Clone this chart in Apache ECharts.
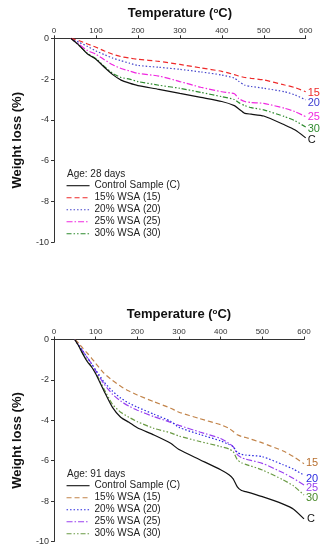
<!DOCTYPE html>
<html>
<head>
<meta charset="utf-8">
<script src="https://cdn.jsdelivr.net/npm/echarts@6/dist/echarts.min.js"></script>
<style>
html,body{margin:0;padding:0;background:#fff;}
#c{width:327px;height:550px;}
</style>
</head>
<body>
<div id="c"></div>
<script>
// ---- Data ----
const xTicks = [0, 100, 200, 300, 400, 500, 600];
const yTicks = [0, -2, -4, -6, -8, -10];

// 28 days
const temp28 = [40, 60, 80, 100, 120, 140, 160, 180, 200, 250, 300, 350, 400, 430, 440, 455, 470, 500, 550, 575, 600];
const c28  = [0, -0.35, -0.77, -1.03, -1.42, -1.78, -2.05, -2.20, -2.32, -2.50, -2.70, -2.90, -3.10, -3.30, -3.45, -3.68, -3.72, -3.81, -4.25, -4.50, -4.88];
const w15_28 = [0, -0.12, -0.28, -0.44, -0.62, -0.78, -0.90, -0.97, -1.03, -1.13, -1.28, -1.45, -1.62, -1.78, -1.85, -1.92, -1.96, -2.04, -2.29, -2.42, -2.62];
const w20_28 = [0, -0.20, -0.40, -0.62, -0.80, -0.97, -1.10, -1.22, -1.33, -1.42, -1.52, -1.65, -1.80, -1.95, -2.10, -2.30, -2.36, -2.45, -2.62, -2.78, -3.02];
const w25_28 = [0, -0.30, -0.60, -0.78, -1.05, -1.30, -1.48, -1.60, -1.72, -1.85, -2.12, -2.40, -2.62, -2.72, -2.95, -3.10, -3.15, -3.19, -3.43, -3.60, -3.84];
const w30_28 = [0, -0.35, -0.75, -1.00, -1.38, -1.72, -1.92, -2.00, -2.12, -2.30, -2.45, -2.65, -2.86, -3.00, -3.15, -3.30, -3.40, -3.51, -3.84, -4.05, -4.35];

// 91 days
const temp91 = [50, 60, 70, 80, 90, 100, 120, 140, 160, 180, 200, 240, 280, 300, 350, 400, 420, 430, 440, 450, 460, 500, 550, 575, 600];
const c91  = [0, -0.35, -0.75, -1.10, -1.35, -1.70, -2.55, -3.35, -3.85, -4.10, -4.37, -4.73, -5.14, -5.45, -5.95, -6.45, -6.70, -6.90, -7.30, -7.48, -7.53, -7.78, -8.15, -8.40, -8.88];
const w15_91 = [0, -0.20, -0.45, -0.68, -0.92, -1.18, -1.67, -2.02, -2.32, -2.55, -2.75, -3.08, -3.40, -3.60, -3.92, -4.22, -4.40, -4.55, -4.72, -4.80, -4.85, -5.12, -5.52, -5.80, -6.15];
const w20_91 = [0, -0.30, -0.60, -0.90, -1.20, -1.50, -2.10, -2.55, -2.90, -3.15, -3.35, -3.70, -4.05, -4.35, -4.70, -5.02, -5.20, -5.30, -5.60, -5.68, -5.72, -5.80, -6.20, -6.42, -6.72];
const w25_91 = [0, -0.30, -0.60, -0.90, -1.20, -1.55, -2.20, -2.70, -3.05, -3.30, -3.50, -3.82, -4.10, -4.25, -4.58, -4.90, -5.15, -5.30, -5.70, -5.85, -5.92, -6.13, -6.60, -6.88, -7.20];
const w30_91 = [0, -0.35, -0.72, -1.05, -1.35, -1.65, -2.45, -3.20, -3.60, -3.85, -4.07, -4.40, -4.62, -4.78, -5.05, -5.30, -5.42, -5.55, -5.95, -6.10, -6.18, -6.46, -6.95, -7.25, -7.70];

const legendNames = ['Control Sample (C)', '15% WSA (15)', '20% WSA (20)', '25% WSA (25)', '30% WSA (30)'];
const endTags = ['C', '15', '20', '25', '30'];
const ages = ['Age: 28 days', 'Age: 91 days'];

// ---- Build ----
const FONT = 'Liberation Sans, Arial, sans-serif';
const pair = (xs, ys) => xs.map((x, i) => [x, ys[i]]);

const dashes = {
  solid: 'solid',
  dash: [5, 3],
  dot: [1.5, 2],
  dashdot: [6, 2, 1.5, 2],
  dashdotdot: [5, 2, 1.5, 2, 1.5, 2]
};

const styles28 = [
  {color: '#111111', type: dashes.solid, label: '#111111', off: [-3, 2]},
  {color: '#ee2a2a', type: dashes.dash, label: '#ee2a2a', off: [-3, 1]},
  {color: '#4646cc', type: dashes.dot, label: '#3a3ad0', off: [-3, 3]},
  {color: '#f028e0', type: dashes.dashdot, label: '#f028e0', off: [-3, 0]},
  {color: '#2e8b2e', type: dashes.dashdotdot, label: '#2e8b2e', off: [-3, 2]}
];
const styles91 = [
  {color: '#111111', type: dashes.solid, label: '#111111', off: [-2, 0]},
  {color: '#c2844a', type: dashes.dash, label: '#b87030', off: [-3, -1]},
  {color: '#2a2ae0', type: dashes.dot, label: '#2a2ae0', off: [-3, 4]},
  {color: '#9a40f0', type: dashes.dashdot, label: '#9a40f0', off: [-3, 3]},
  {color: '#6a9a44', type: dashes.dashdotdot, label: '#4a8a2a', off: [-3, 3]}
];

const data28 = [c28, w15_28, w20_28, w25_28, w30_28];
const data91 = [c91, w15_91, w20_91, w25_91, w30_91];

function makeSeries(prefix, temps, arrs, styles, idx) {
  return arrs.map((ys, i) => ({
    name: prefix + legendNames[i],
    type: 'line',
    xAxisIndex: idx,
    yAxisIndex: idx,
    data: pair(temps, ys),
    symbol: 'none',
    smooth: 0.2,
    lineStyle: {color: styles[i].color, width: 1.2, type: styles[i].type},
    itemStyle: {color: styles[i].color},
    endLabel: {
      show: true,
      formatter: endTags[i],
      color: styles[i].label,
      fontSize: 11,
      fontFamily: FONT,
      distance: 5,
      offset: styles[i].off
    },
    z: 10 - i
  }));
}

function xAxis(idx) {
  return {
    type: 'value', gridIndex: idx, position: 'top',
    min: 0, max: 600, interval: 100,
    name: '{t|Temperature (}{s|o}{t|C)}',
    nameLocation: 'middle', nameGap: 18,
    nameTextStyle: {
      rich: {
        t: {fontSize: 13, fontWeight: 'bold', fontFamily: FONT, color: '#111'},
        s: {fontSize: 8, fontWeight: 'bold', fontFamily: FONT, color: '#111', verticalAlign: 'top', padding: [0, 0, 6, 0]}
      }
    },
    axisLine: {show: true, lineStyle: {color: '#333', width: 1}},
    axisTick: {show: true, length: 3, lineStyle: {color: '#333'}},
    axisLabel: {fontSize: 8, color: '#333', fontFamily: FONT, margin: 4,
      formatter: v => xTicks.includes(v) ? String(v) : ''},
    splitLine: {show: false}
  };
}
function yAxis(idx) {
  return {
    type: 'value', gridIndex: idx,
    min: -10, max: 0, interval: 2,
    name: 'Weight loss (%)', nameLocation: 'middle', nameGap: 30, nameRotate: 90,
    nameTextStyle: {fontSize: 13, fontWeight: 'bold', fontFamily: FONT, color: '#111'},
    axisLine: {show: true, lineStyle: {color: '#333', width: 1}},
    axisTick: {show: true, length: 3, lineStyle: {color: '#333'}},
    axisLabel: {fontSize: 9, color: '#333', fontFamily: FONT, margin: 5,
      formatter: v => yTicks.includes(v) ? String(v) : ''},
    splitLine: {show: false}
  };
}

const chart = echarts.init(document.getElementById('c'), null, {renderer: 'canvas'});
const legendCommon = {
  orient: 'vertical', left: 66, padding: 0, itemWidth: 23, itemHeight: 10, itemGap: 2,
  itemStyle: {opacity: 0},
  lineStyle: {width: 1.1},
  textStyle: {fontSize: 10, fontFamily: FONT, color: '#222', lineHeight: 10},
  formatter: n => n.slice(2),
  selectedMode: false
};
const titleStyle = {fontSize: 10, fontWeight: 'normal', fontFamily: FONT, color: '#222'};
chart.setOption({
  animation: false,
  backgroundColor: '#ffffff',
  grid: [
    {left: 54, top: 38.3, width: 251.7, height: 204},
    {left: 54, top: 339.5, width: 250, height: 202}
  ],
  title: [
    {text: ages[0], left: 67, top: 169, padding: 0, textStyle: titleStyle},
    {text: ages[1], left: 67, top: 469, padding: 0, textStyle: titleStyle}
  ],
  legend: [
    Object.assign({}, legendCommon, {top: 180.7, data: legendNames.map(n => 't:' + n)}),
    Object.assign({}, legendCommon, {top: 480.7, data: legendNames.map(n => 'b:' + n)})
  ],
  xAxis: [xAxis(0), xAxis(1)],
  yAxis: [yAxis(0), yAxis(1)],
  series: [].concat(
    makeSeries('t:', temp28, data28, styles28, 0),
    makeSeries('b:', temp91, data91, styles91, 1)
  )
});
</script>
</body>
</html>
